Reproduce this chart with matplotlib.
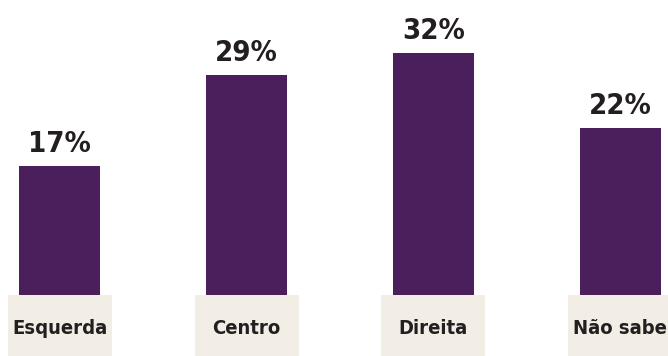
import matplotlib
matplotlib.use("Agg")
import matplotlib.pyplot as plt
from matplotlib.patches import Rectangle

categories = ["Esquerda", "Centro", "Direita", "Não sabe"]
values = [17, 29, 32, 22]

BAR_COLOR = "#4a1f5c"
BOX_COLOR = "#f2eee6"
TEXT_COLOR = "#231f20"
FONT = ["DejaVu Sans"]

fig = plt.figure(figsize=(6.68, 3.56), dpi=100)
ax = fig.add_axes([0, 0, 1, 1])
ax.set_xlim(-0.321, 3.257)
ax.set_ylim(-8.06, 38.97)
ax.axis("off")

x = list(range(len(categories)))
ax.bar(x, values, width=0.434, color=BAR_COLOR, zorder=1)

# beige label boxes sit over the bar bases
box_w = 0.557
for xi, cat in zip(x, categories):
    ax.add_patch(Rectangle((xi - box_w / 2, -8.06), box_w, 8.06,
                           facecolor=BOX_COLOR, edgecolor="none", zorder=2))
    ax.text(xi, -4.49, cat, ha="center", va="center", fontsize=14.5,
            fontweight="bold", fontstretch="condensed", family=FONT,
            color=TEXT_COLOR, zorder=3)

for xi, v in zip(x, values):
    ax.text(xi, v + 1.85, f"{v}%", ha="center", va="baseline", fontsize=21,
            fontweight="bold", fontstretch="condensed", family=FONT,
            color=TEXT_COLOR)

fig.savefig("out.png", dpi=100)
